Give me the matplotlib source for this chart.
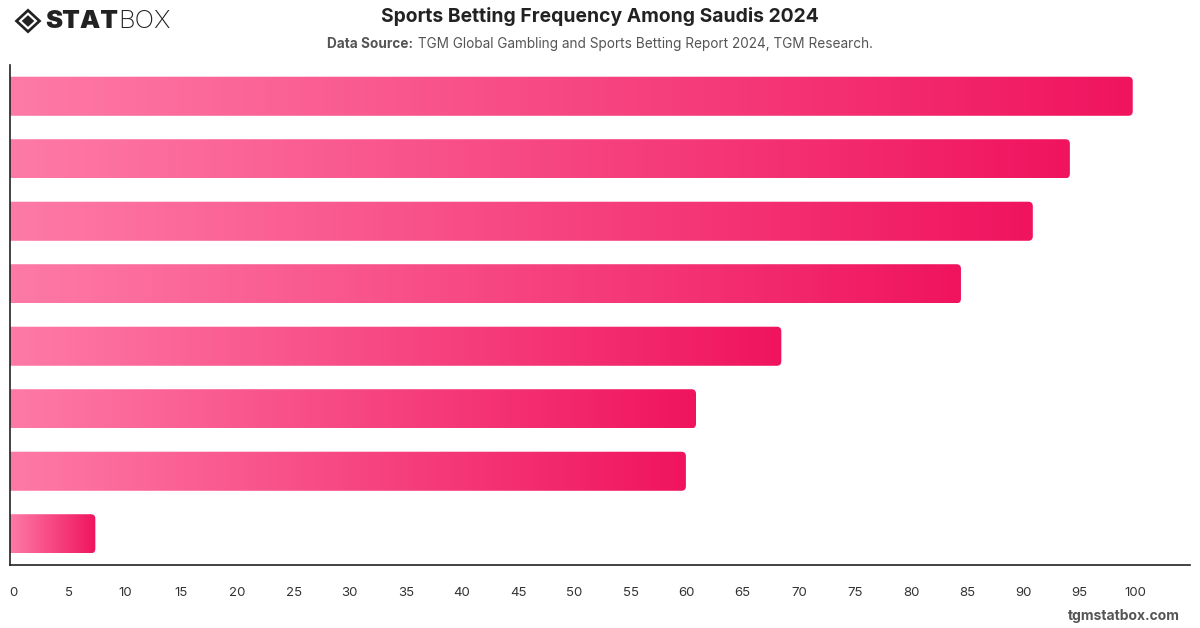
import numpy as np
import matplotlib
matplotlib.use('Agg')
import matplotlib.pyplot as plt
import matplotlib.transforms as mtransforms
from matplotlib.patches import FancyBboxPatch, Polygon
from matplotlib.colors import LinearSegmentedColormap

plt.rcParams['font.family'] = ['Inter', 'DejaVu Sans']

# ── Data (bar lengths, top to bottom; the chart has no category labels) ──
values = [100, 94.4, 91.1, 84.7, 68.7, 61.1, 60.2, 7.6]
xticks = list(range(0, 101, 5))

title = 'Sports Betting Frequency Among Saudis 2024'
source_label = 'Data Source:'
source_text = ' TGM Global Gambling and Sports Betting Report 2024, TGM Research.'

W, H = 1200, 628
fig = plt.figure(figsize=(W / 100, H / 100), dpi=100)
ax = fig.add_axes([10 / W, 1 - 565 / H, 1180 / W, 500 / H])

xmax = 105.1
ax.set_xlim(0, xmax)
ax.set_ylim(len(values) - 0.5, -0.5)

cmap = LinearSegmentedColormap.from_list('pink', ['#fe7aa6', '#f0145f'])
grad = np.linspace(0, 1, 256).reshape(1, -1)
bar_h = 0.625
px_x = 1180 / xmax
px_y = 500 / len(values)

for i, v in enumerate(values):
    y0 = i - bar_h / 2
    im = ax.imshow(grad, cmap=cmap, aspect='auto', interpolation='bilinear',
                   extent=[0, v, y0 + bar_h, y0], zorder=2)
    clip = FancyBboxPatch((-1, y0), v + 1, bar_h,
                          boxstyle='round,pad=0,rounding_size=0.4',
                          mutation_aspect=px_x / px_y,
                          transform=ax.transData, fc='none', ec='none')
    ax.add_patch(clip)
    im.set_clip_path(clip)

ax.set_xlim(0, xmax)
ax.set_ylim(len(values) - 0.5, -0.5)

for s in ['top', 'right']:
    ax.spines[s].set_visible(False)
for s in ['left', 'bottom']:
    ax.spines[s].set_color('#222222')
    ax.spines[s].set_linewidth(1.2)
ax.set_yticks([])
ax.set_xticks(xticks)
ax.set_xticklabels([str(t) for t in xticks], fontsize=9.5, color='#333333')
ax.tick_params(axis='x', length=0, pad=16)
shift = mtransforms.ScaledTranslation(3 / 100, 0, fig.dpi_scale_trans)
for lbl in ax.get_xticklabels():
    lbl.set_transform(lbl.get_transform() + shift)

# ── Titles ──
fig.text(0.5, 1 - 17 / H, title, ha='center', va='center',
         fontsize=13.9, fontweight='bold', color='#222222')

fig.canvas.draw()
r = fig.canvas.get_renderer()
t1 = fig.text(0, 1 - 44 / H, source_label, ha='left', va='center',
              fontsize=9.8, fontweight='bold', color='#555555')
t2 = fig.text(0, 1 - 44 / H, source_text, ha='left', va='center',
              fontsize=9.8, color='#555555')
w1 = t1.get_window_extent(r).width
w2 = t2.get_window_extent(r).width
x0 = (W - w1 - w2) / 2
t1.set_x(x0 / W)
t2.set_x((x0 + w1) / W)

# ── Logo ──
cx, cy = 28, H - 21
outer = Polygon([[cx - 13.5, cy], [cx, cy + 12.5], [cx + 13.5, cy], [cx, cy - 12.5]],
                closed=True, transform=None, fc='#222222', ec='none')
mid = Polygon([[cx - 9.5, cy], [cx, cy + 8.8], [cx + 9.5, cy], [cx, cy - 8.8]],
              closed=True, transform=None, fc='white', ec='none')
inner = Polygon([[cx - 6.3, cy], [cx, cy + 5.8], [cx + 6.3, cy], [cx, cy - 5.8]],
                closed=True, transform=None, fc='#222222', ec='none')
for p in (outer, mid, inner):
    fig.patches.append(p)
lt = fig.text(45 / W, 1 - 21 / H, 'STAT', ha='left', va='center',
              fontsize=18.5, fontweight='black', color='#222222')
lw = lt.get_window_extent(r).width
fig.text((45 + lw) / W, 1 - 21 / H, 'BOX', ha='left', va='center',
         fontsize=18.5, fontweight='light', color='#222222')

# ── Footer ──
fig.text(1180 / W, 1 - 616 / H, 'tgmstatbox.com', ha='right', va='center',
         fontsize=10, fontweight='bold', color='#555555')

fig.savefig('out.png', dpi=100)
